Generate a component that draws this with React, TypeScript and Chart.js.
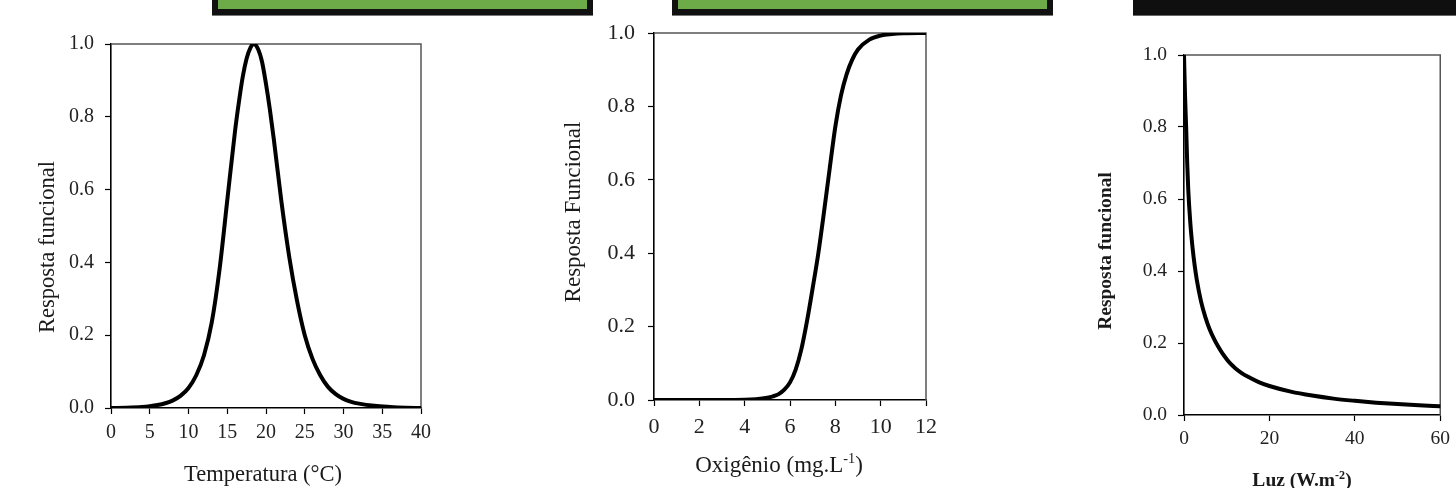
import React, { useEffect, useRef } from "react";
import { Chart, registerables } from "chart.js";

Chart.register(...registerables);

// ---------- DATA ----------
const tempX = [0, 2, 4, 5, 6, 7, 8, 9, 10, 11, 12, 13, 14, 15, 16, 16.5, 17, 17.5, 18, 18.4, 19, 19.5, 20, 20.5, 21, 22, 23, 24, 25, 26, 27, 28, 29, 30, 31, 32, 34, 36, 38, 40];
const tempY = [0.0, 0.001, 0.003, 0.005, 0.008, 0.013, 0.021, 0.034, 0.055, 0.09, 0.145, 0.235, 0.38, 0.57, 0.76, 0.84, 0.91, 0.96, 0.99, 1.0, 0.985, 0.95, 0.89, 0.82, 0.74, 0.565, 0.415, 0.295, 0.2, 0.135, 0.09, 0.058, 0.038, 0.025, 0.017, 0.012, 0.006, 0.003, 0.001, 0.0];

const oxyX = [0, 3, 4, 4.5, 5, 5.25, 5.5, 5.75, 6, 6.25, 6.5, 6.75, 7, 7.25, 7.5, 7.75, 8, 8.25, 8.5, 8.75, 9, 9.5, 10, 10.5, 11, 12];
const oxyY = [0, 0, 0.0005, 0.002, 0.006, 0.01, 0.016, 0.028, 0.048, 0.083, 0.138, 0.215, 0.305, 0.4, 0.512, 0.63, 0.745, 0.83, 0.888, 0.928, 0.955, 0.982, 0.993, 0.997, 0.999, 1.0];

const lightX = [0, 0.25, 0.5, 0.75, 1, 1.5, 2, 2.5, 3, 4, 5, 6, 7, 8, 9, 10, 11, 12, 13.5, 15, 17.5, 20, 25, 30, 35, 40, 45, 50, 55, 60];
const lightY = [1.0, 0.885, 0.8, 0.7, 0.625, 0.53, 0.465, 0.415, 0.375, 0.315, 0.272, 0.238, 0.212, 0.19, 0.171, 0.155, 0.141, 0.13, 0.1165, 0.106, 0.0914, 0.0805, 0.065, 0.054, 0.0455, 0.0394, 0.0343, 0.0303, 0.0269, 0.0241];

const tempTicks = [0, 5, 10, 15, 20, 25, 30, 35, 40];
const oxyTicks = [0, 2, 4, 6, 8, 10, 12];
const lightTicks = [0, 20, 40, 60];
const yTicks = [0, 0.2, 0.4, 0.6, 0.8, 1.0];

const tempXTitle = [{ text: "Temperatura (°C)" }];
const oxyXTitle = [{ text: "Oxigênio (mg.L" }, { text: "-1", sup: true }, { text: ")" }];
const lightXTitle = [{ text: "Luz (W.m" }, { text: "-2", sup: true }, { text: ")" }];
const tempYTitle = "Resposta funcional";
const oxyYTitle = "Resposta Funcional";
const lightYTitle = "Resposta funcional";

// ---------- STYLE ----------
const FAMILY = "'Liberation Serif', 'Times New Roman', serif";
const H = 488;

type Part = { text: string; sup?: boolean };

const titlesPlugin = {
  id: "customTitles",
  afterDraw(chart: any, _a: any, opts: any) {
    const ctx: CanvasRenderingContext2D = chart.ctx;
    const xt = opts.x;
    if (xt) {
      const w = xt.bold ? "bold " : "";
      const main = `${w}${xt.size}px ${FAMILY}`;
      const sup = `${w}${xt.size * 0.62}px ${FAMILY}`;
      ctx.save();
      ctx.fillStyle = "#1a1a1a";
      ctx.textBaseline = "alphabetic";
      ctx.textAlign = "left";
      let total = 0;
      xt.parts.forEach((p: Part) => {
        ctx.font = p.sup ? sup : main;
        total += ctx.measureText(p.text).width;
      });
      let x = xt.cx - total / 2;
      xt.parts.forEach((p: Part) => {
        ctx.font = p.sup ? sup : main;
        ctx.fillText(p.text, x, p.sup ? xt.baseline - xt.size * 0.38 : xt.baseline);
        x += ctx.measureText(p.text).width;
      });
      ctx.restore();
    }
    const yt = opts.y;
    if (yt) {
      ctx.save();
      ctx.fillStyle = "#1a1a1a";
      ctx.font = `${yt.bold ? "bold " : ""}${yt.size}px ${FAMILY}`;
      ctx.translate(yt.bx, yt.cy);
      ctx.rotate(-Math.PI / 2);
      ctx.textAlign = "center";
      ctx.textBaseline = "alphabetic";
      ctx.fillText(yt.text, 0, 0);
      ctx.restore();
    }
  },
};

const framePlugin = {
  id: "frameTopRight",
  beforeDatasetsDraw(chart: any) {
    const { ctx, chartArea: a } = chart;
    ctx.save();
    ctx.strokeStyle = "#555";
    ctx.lineWidth = 1.5;
    ctx.beginPath();
    ctx.moveTo(a.left, a.top);
    ctx.lineTo(a.right, a.top);
    ctx.lineTo(a.right, a.bottom);
    ctx.stroke();
    ctx.restore();
  },
};

interface Panel {
  left: number;
  width: number;
  area: { left: number; right: number; top: number; bottom: number };
  xs: number[];
  ys: number[];
  xTicks: number[];
  tickSize: number;
  padX: number;
  padY: number;
  xTitle: { parts: Part[]; size: number; bold?: boolean; cx: number; baseline: number };
  yTitle: { text: string; size: number; bold?: boolean; bx: number; cy: number };
}

const panels: Panel[] = [
  {
    left: 0,
    width: 470,
    area: { left: 111, right: 421, top: 44, bottom: 408 },
    xs: tempX,
    ys: tempY,
    xTicks: tempTicks,
    tickSize: 20,
    padX: 7,
    padY: 11,
    xTitle: { parts: tempXTitle, size: 22.5, cx: 263, baseline: 481 },
    yTitle: { text: tempYTitle, size: 22.5, bx: 54, cy: 247 },
  },
  {
    left: 480,
    width: 480,
    area: { left: 174, right: 446, top: 33, bottom: 400 },
    xs: oxyX,
    ys: oxyY,
    xTicks: oxyTicks,
    tickSize: 22,
    padX: 8,
    padY: 13,
    xTitle: { parts: oxyXTitle, size: 23, cx: 299, baseline: 472 },
    yTitle: { text: oxyYTitle, size: 23, bx: 100, cy: 212 },
  },
  {
    left: 960,
    width: 496,
    area: { left: 224, right: 481, top: 55, bottom: 415 },
    xs: lightX,
    ys: lightY,
    xTicks: lightTicks,
    tickSize: 19.5,
    padX: 6,
    padY: 11,
    xTitle: { parts: lightXTitle, size: 19.5, bold: true, cx: 342, baseline: 486 },
    yTitle: { text: lightYTitle, size: 19.5, bold: true, bx: 151, cy: 251 },
  },
];

function PanelChart({ p }: { p: Panel }) {
  const ref = useRef<HTMLCanvasElement>(null);
  useEffect(() => {
    if (!ref.current) return;
    const xMin = p.xTicks[0];
    const xMax = p.xTicks[p.xTicks.length - 1];
    const step = p.xTicks[1] - p.xTicks[0];
    const tickFont = { family: FAMILY, size: p.tickSize };
    const chart = new Chart(ref.current, {
      type: "line",
      data: {
        datasets: [
          {
            data: p.xs.map((x, i) => ({ x, y: p.ys[i] })),
            borderColor: "#000",
            borderWidth: 4,
            pointRadius: 0,
            fill: false,
            cubicInterpolationMode: "monotone",
            borderJoinStyle: "round",
            borderCapStyle: "round",
          },
        ],
      },
      options: {
        animation: false,
        responsive: false,
        devicePixelRatio: 1,
        events: [],
        layout: {
          padding: { left: 0, top: p.area.top, right: p.width - p.area.right, bottom: 0 },
        },
        plugins: {
          legend: { display: false },
          tooltip: { enabled: false },
          customTitles: { x: p.xTitle, y: p.yTitle },
        } as any,
        scales: {
          x: {
            type: "linear",
            min: xMin,
            max: xMax,
            afterFit: (s: any) => {
              s.height = H - p.area.bottom;
            },
            afterBuildTicks: (s: any) => {
              s.ticks = p.xTicks.map((v) => ({ value: v }));
            },
            ticks: {
              stepSize: step,
              font: tickFont,
              color: "#222",
              padding: p.padX,
              maxRotation: 0,
              autoSkip: false,
              callback: (v: any) => String(v),
            },
            grid: {
              display: true,
              drawOnChartArea: false,
              drawTicks: true,
              tickLength: 6,
              tickColor: "#000",
              tickWidth: 1.2,
            },
            border: { display: true, color: "#000", width: 1.6 },
          },
          y: {
            type: "linear",
            min: 0,
            max: 1,
            afterFit: (s: any) => {
              s.width = p.area.left;
            },
            afterBuildTicks: (s: any) => {
              s.ticks = yTicks.map((v) => ({ value: v }));
            },
            ticks: {
              stepSize: 0.2,
              font: tickFont,
              color: "#222",
              padding: p.padY,
              callback: (v: any) => Number(v).toFixed(1),
            },
            grid: {
              display: true,
              drawOnChartArea: false,
              drawTicks: true,
              tickLength: 6,
              tickColor: "#000",
              tickWidth: 1.2,
            },
            border: { display: true, color: "#000", width: 1.6 },
          },
        },
      },
      plugins: [framePlugin, titlesPlugin],
    } as any);
    return () => chart.destroy();
  }, [p]);
  return (
    <canvas
      ref={ref}
      width={p.width}
      height={H}
      style={{ position: "absolute", left: p.left, top: 0, width: p.width, height: H, display: "block" }}
    />
  );
}

const GREEN = "#6cab47";

export default function App() {
  return (
    <div
      style={{
        position: "absolute",
        left: 0,
        top: 0,
        width: 1456,
        height: H,
        overflow: "hidden",
        background: "#fff",
      }}
    >
      <div
        style={{
          position: "absolute",
          left: 212,
          top: -12,
          width: 381,
          height: 27,
          boxSizing: "border-box",
          border: "6px solid #111",
          background: GREEN,
          boxShadow: "0 1px 0 #777",
        }}
      />
      <div
        style={{
          position: "absolute",
          left: 672,
          top: -12,
          width: 381,
          height: 27,
          boxSizing: "border-box",
          border: "6px solid #111",
          background: GREEN,
          boxShadow: "0 1px 0 #777",
        }}
      />
      <div
        style={{
          position: "absolute",
          left: 1133,
          top: -12,
          width: 340,
          height: 27,
          background: "#0f0f0f",
          boxShadow: "0 1px 0 #666",
        }}
      />
      {panels.map((p, i) => (
        <PanelChart key={i} p={p} />
      ))}
    </div>
  );
}
